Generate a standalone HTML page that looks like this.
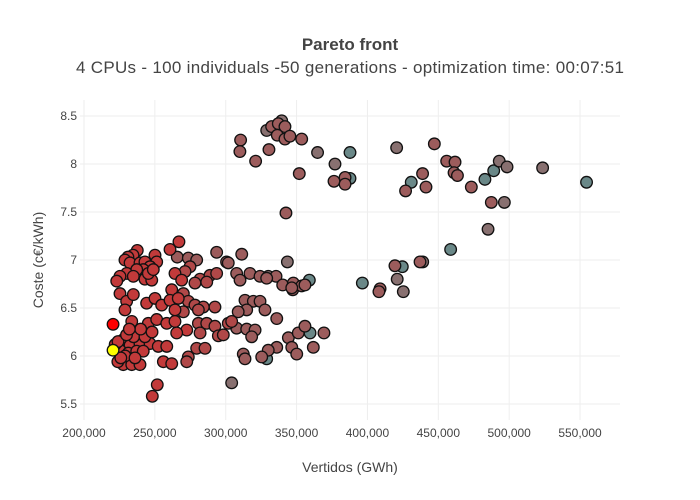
<!DOCTYPE html>
<html><head><meta charset="utf-8"><style>
body{margin:0;background:#fff}
svg{display:block;font-family:"Liberation Sans",sans-serif}
</style></head><body>
<svg id="chart" width="700" height="500" viewBox="0 0 700 500">
<rect width="700" height="500" fill="#fff"/>
<text x="350" y="50" text-anchor="middle" font-size="17" font-weight="bold" fill="#444">Pareto front</text>
<text x="350" y="73" text-anchor="middle" font-size="17" fill="#444" textLength="548">4 CPUs - 100 individuals -50 generations - optimization time: 00:07:51</text>
<g id="grid"></g>
<g id="ticks"></g>
<g id="points"></g>
<text x="350" y="472" text-anchor="middle" font-size="14" fill="#444">Vertidos (GWh)</text>
<text x="0" y="0" transform="translate(43,260) rotate(-90)" text-anchor="middle" font-size="14" fill="#444">Coste (c€/kWh)</text>
</svg>
<script>
const xTicks=[200000,250000,300000,350000,400000,450000,500000,550000];
const yTicks=[5.5,6,6.5,7,7.5,8,8.5];
const xs=[328.9,332.4,337.1,339.5,341.8,336.4,341.8,345.3,353.6,321.1,330.5,351.9,364.8,387.7,377.1,376.4,384.2,387.7,384.2,420.6,447.2,455.9,461.8,461.1,463.5,438.9,430.9,426.9,441.3,473.3,482.9,489.1,493,498.5,523.6,554.6,487.4,496.6,485.1,458.7,343.5,310.5,310,342.5,
419.4,424.6,437.1,439,396.4,421,408.9,408.1,425.3,369.3,
317.1,324.2,330.0,335.5,340.2,347.7,347.3,353.6,359.0,
237.6,234.6,231.0,228.9,232.5,239.5,243.0,250.1,251.3,246.6,241.8,237.2,230.1,225.4,223.1,234.8,243.0,247.8,245.4,248.9,
260.7,267.0,265.8,273.6,279.5,264.2,268.9,274.8,271.3,281.9,288.9,293.6,286.6,278.3,293.6,300.6,301.8,311.3,307.7,310.1,328.9,346.6,355.9,
225.4,230.1,234.8,228.9,244.2,250.1,254.8,261.9,260.7,266.5,270.1,264.2,273.6,278.3,284.2,292.4,270.1,280.7,313.6,319.5,324.2,327.7,314.8,308.8,336.0,
220.5,233.7,245.4,251.3,258.4,264.2,272.5,265.4,280.7,281.9,286.6,292.4,294.8,298.3,301.8,304.2,307.7,314.8,320.7,318.3,344.2,351.2,355.9,359.5,361.8,346.6,350.1,336.0,330.0,325.4,328.9,312.4,313.6,304.2,
227.7,232.5,239.5,246.6,252.4,258.4,225.4,231.3,237.2,241.8,227.7,233.7,239.5,223.9,256.0,261.9,273.6,279.5,285.4,272.5,251.7,248.2,
222,224,229,235,230,226,236,243,240,248,232,220.5];
const ys=[8.35,8.39,8.42,8.45,8.39,8.30,8.26,8.29,8.26,8.03,8.15,7.90,8.12,8.12,8.00,7.82,7.86,7.85,7.79,8.17,8.21,8.03,8.02,7.91,7.88,7.90,7.81,7.72,7.76,7.76,7.84,7.93,8.03,7.97,7.96,7.81,7.60,7.60,7.32,7.11,6.98,8.25,8.13,7.49,
6.94,6.93,6.98,6.98,6.76,6.80,6.70,6.67,6.67,6.24,
6.86,6.83,6.83,6.83,6.74,6.76,6.69,6.73,6.79,
7.10,7.05,7.03,7.00,6.97,6.97,6.98,7.05,6.98,6.93,6.90,6.90,6.86,6.83,6.78,6.83,6.80,6.79,6.86,6.90,
7.11,7.19,7.03,7.02,7.00,6.86,6.79,6.93,6.88,6.80,6.84,6.86,6.77,6.76,7.08,6.98,6.97,7.06,6.86,6.79,6.81,6.71,6.74,
6.65,6.57,6.64,6.48,6.55,6.60,6.53,6.69,6.58,6.60,6.65,6.48,6.57,6.53,6.51,6.51,6.46,6.48,6.58,6.57,6.57,6.48,6.48,6.46,6.39,
6.33,6.36,6.34,6.38,6.34,6.36,6.27,6.24,6.34,6.24,6.34,6.31,6.21,6.22,6.34,6.36,6.29,6.28,6.27,6.20,6.19,6.24,6.31,6.24,6.09,6.09,6.02,6.09,6.06,5.99,5.97,6.02,5.97,5.72,
6.17,6.11,6.13,6.13,6.10,6.10,6.06,6.03,6.05,6.05,5.91,5.91,5.91,5.94,5.94,5.92,5.99,6.08,6.08,5.94,5.70,5.58,
6.12,6.15,6.00,6.20,6.22,5.98,5.98,6.20,6.28,6.25,6.28,6.06];
const cs=[3,2,2,3,2,2,2,2,2,2,2,2,3,4,3,2,2,4,2,3,2,2,2,2,2,2,4,2,2,2,4,4,3,3,3,4,2,3,3,4,3,2,2,2,
2,4,2,3,4,3,2,2,3,2,
2,2,3,2,2,2,2,2,4,
1,1,1,1,1,1,1,1,1,1,1,1,1,1,1,1,1,1,1,1,
1,1,2,2,2,1,1,1.5,1.5,1.5,1.5,1.5,1.5,1.5,2,2,2,2,2,2,2,2,2,
1,1,1,1,1,1,1,1,1,1,1.5,1,1.5,1.5,1.5,1.5,1.5,1.5,2,2,2,2,2,2,2,
0,1,1,1,1,1,1,1,1.5,1.5,1.5,1.5,1.5,1.5,1.5,1.5,2,2,2,2,2,2,2,4,2,2,2,2,2,2,4,2,2,3,
1,1,1,1,1,1,1,1,1,1,1,1,1,1,1,1,1.5,1.5,1.5,1.5,1,1,
1,1,1,1,1,1,1,1,1,1,1,5];
const L=80,R=620,T=100,B=420,X0=197180,X1=578200,Y0=5.333,Y1=8.667;
const sx=v=>L+(v-X0)/(X1-X0)*(R-L);
const sy=v=>B-(v-Y0)/(Y1-Y0)*(B-T);
const NS='http://www.w3.org/2000/svg';
const grid=document.getElementById('grid'),ticks=document.getElementById('ticks'),pts=document.getElementById('points');
function mk(tag,a){const e=document.createElementNS(NS,tag);for(const k in a)e.setAttribute(k,a[k]);return e;}
xTicks.forEach(t=>{const x=sx(t);
 const l=mk('line',{x1:x,x2:x,y1:T,y2:B,stroke:'#eee','stroke-width':1});
 
 grid.appendChild(l);
 const tx=mk('text',{x:x,y:B+17,'text-anchor':'middle','font-size':12,fill:'#444'});
 
 
 tx.textContent=t.toLocaleString('en-US');ticks.appendChild(tx);});
yTicks.forEach(t=>{const y=sy(t);
 const l=mk('line',{x1:L,x2:R,y1:y,y2:y,stroke:'#eee','stroke-width':1});
 
 grid.appendChild(l);
 const tx=mk('text',{x:L-3,y:y+4,'text-anchor':'end','font-size':12,fill:'#444'});
 
 
 tx.textContent=String(t);ticks.appendChild(tx);});
const pal={0:'#ff0000',1:'#c23a3a',1.5:'#b04848',2:'#9c5c5c',3:'#887070',4:'#6a8888',5:'#ffff00'};
const idx=xs.map((_,i)=>i).sort((a,b)=>{const ka=cs[a]===5?-1:cs[a],kb=cs[b]===5?-1:cs[b];return kb-ka;});
idx.forEach(i=>{
 const c=mk('circle',{cx:sx(xs[i]*1000),cy:sy(ys[i]),r:5.8,fill:pal[cs[i]],stroke:'#111','stroke-width':1.3});
 
 
 pts.appendChild(c);});
</script>
</body></html>
